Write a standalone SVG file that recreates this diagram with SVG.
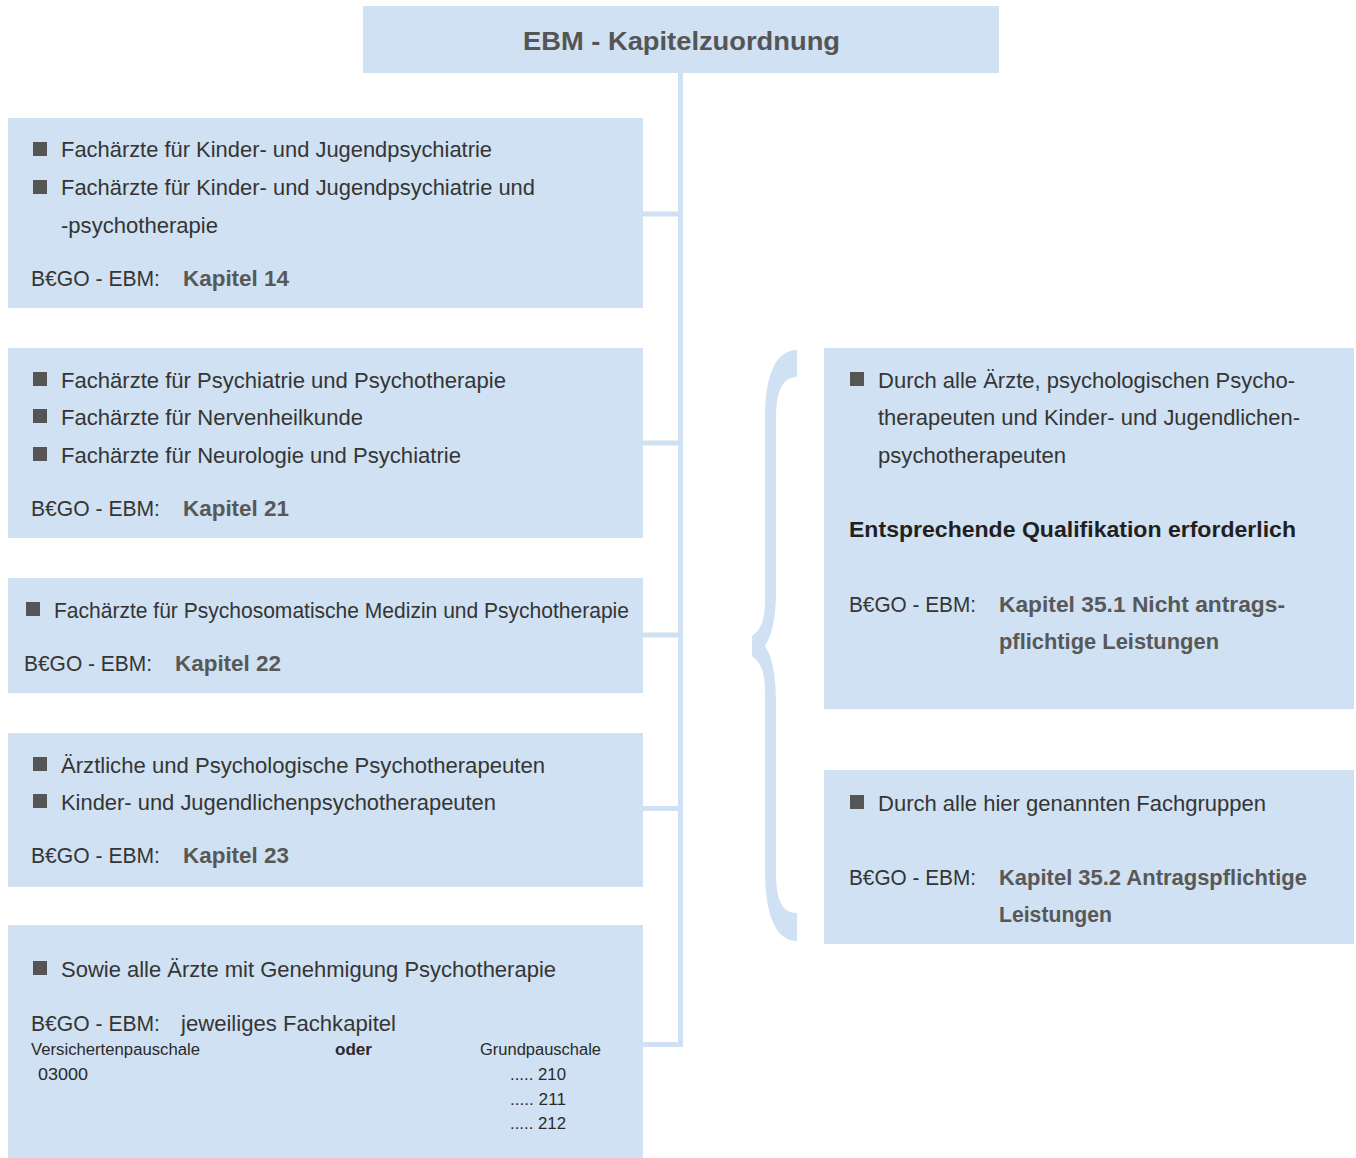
<svg xmlns="http://www.w3.org/2000/svg" width="1356" height="1158" viewBox="0 0 1356 1158">
<style>
.box{fill:#cfe1f2}
.t{font-family:"Liberation Sans",Arial,sans-serif;font-size:22px;fill:#353535}
.k{font-family:"Liberation Sans",Arial,sans-serif;font-size:22px;font-weight:bold;fill:#585858}
.q{font-family:"Liberation Sans",Arial,sans-serif;font-size:22px;font-weight:bold;fill:#231f20}
.s{font-family:"Liberation Sans",Arial,sans-serif;font-size:16px;fill:#2a2a2a}
.sb{font-family:"Liberation Sans",Arial,sans-serif;font-size:16px;font-weight:bold;fill:#2a2a2a}
.title{font-family:"Liberation Sans",Arial,sans-serif;font-size:26px;font-weight:bold;fill:#555}
.b{fill:#555}
.conn{fill:none;stroke:#cfe1f2;stroke-width:5}
</style>
<rect width="1356" height="1158" fill="#fff"/>
<g id="connectors">
<path class="conn" d="M680.5,72 V1047 M643,214 H680.5 M643,443 H680.5 M643,635 H680.5 M643,808.5 H680.5 M643,1044.5 H683"/>
<path id="brace" fill="#cfe1f2" d="M797,350 C778,350 765,370 765,420 L765,600 C765,622 760,630 752,636 L752,656 C760,662 765,670 765,692 L765,870 C765,920 778,941 797,941 L797,913 C783,913 776,902 776,872 L776,702 C776,674 772,657 765,646 C772,635 776,618 776,590 L776,420 C776,390 783,377 797,377 Z"/>
</g>
<g id="title">
<rect class="box" x="363" y="6" width="636" height="67"/>
<text class="title" x="523" y="50" textLength="317" lengthAdjust="spacingAndGlyphs">EBM - Kapitelzuordnung</text>
</g>
<g id="box1">
<rect class="box" x="8" y="118" width="635" height="190"/>
<rect class="b" x="33" y="142" width="14" height="14"/>
<rect class="b" x="33" y="180" width="14" height="14"/>
<text class="t" x="61" y="157" textLength="431" lengthAdjust="spacingAndGlyphs">Fachärzte für Kinder- und Jugendpsychiatrie</text>
<text class="t" x="61" y="195" textLength="474" lengthAdjust="spacingAndGlyphs">Fachärzte für Kinder- und Jugendpsychiatrie und</text>
<text class="t" x="61" y="233" textLength="157" lengthAdjust="spacingAndGlyphs">-psychotherapie</text>
<text class="t" x="31" y="286" textLength="129" lengthAdjust="spacingAndGlyphs">B€GO - EBM:</text>
<text class="k" x="183" y="286" textLength="106" lengthAdjust="spacingAndGlyphs">Kapitel 14</text>
</g>
<g id="box2">
<rect class="box" x="8" y="348" width="635" height="190"/>
<rect class="b" x="33" y="372" width="14" height="14"/>
<rect class="b" x="33" y="409" width="14" height="14"/>
<rect class="b" x="33" y="447" width="14" height="14"/>
<text class="t" x="61" y="388" textLength="445" lengthAdjust="spacingAndGlyphs">Fachärzte für Psychiatrie und Psychotherapie</text>
<text class="t" x="61" y="425" textLength="302" lengthAdjust="spacingAndGlyphs">Fachärzte für Nervenheilkunde</text>
<text class="t" x="61" y="463" textLength="400" lengthAdjust="spacingAndGlyphs">Fachärzte für Neurologie und Psychiatrie</text>
<text class="t" x="31" y="516" textLength="129" lengthAdjust="spacingAndGlyphs">B€GO - EBM:</text>
<text class="k" x="183" y="516" textLength="106" lengthAdjust="spacingAndGlyphs">Kapitel 21</text>
</g>
<g id="box3">
<rect class="box" x="8" y="578" width="635" height="115"/>
<rect class="b" x="26" y="602" width="14" height="14"/>
<text class="t" x="54" y="618" textLength="575" lengthAdjust="spacingAndGlyphs">Fachärzte für Psychosomatische Medizin und Psychotherapie</text>
<text class="t" x="24" y="671" textLength="128" lengthAdjust="spacingAndGlyphs">B€GO - EBM:</text>
<text class="k" x="175" y="671" textLength="106" lengthAdjust="spacingAndGlyphs">Kapitel 22</text>
</g>
<g id="box4">
<rect class="box" x="8" y="733" width="635" height="154"/>
<rect class="b" x="33" y="757" width="14" height="14"/>
<rect class="b" x="33" y="794" width="14" height="14"/>
<text class="t" x="61" y="773" textLength="484" lengthAdjust="spacingAndGlyphs">Ärztliche und Psychologische Psychotherapeuten</text>
<text class="t" x="61" y="810" textLength="435" lengthAdjust="spacingAndGlyphs">Kinder- und Jugendlichenpsychotherapeuten</text>
<text class="t" x="31" y="863" textLength="129" lengthAdjust="spacingAndGlyphs">B€GO - EBM:</text>
<text class="k" x="183" y="863" textLength="106" lengthAdjust="spacingAndGlyphs">Kapitel 23</text>
</g>
<g id="box5">
<rect class="box" x="8" y="925" width="635" height="233"/>
<rect class="b" x="33" y="961" width="14" height="14"/>
<text class="t" x="61" y="977" textLength="495" lengthAdjust="spacingAndGlyphs">Sowie alle Ärzte mit Genehmigung Psychotherapie</text>
<text class="t" x="31" y="1031" textLength="129" lengthAdjust="spacingAndGlyphs">B€GO - EBM:</text>
<text class="t" x="181" y="1031" textLength="215" lengthAdjust="spacingAndGlyphs">jeweiliges Fachkapitel</text>
<text class="s" x="31" y="1055" textLength="169" lengthAdjust="spacingAndGlyphs">Versichertenpauschale</text>
<text class="sb" x="335" y="1055" textLength="37" lengthAdjust="spacingAndGlyphs">oder</text>
<text class="s" x="480" y="1055" textLength="121" lengthAdjust="spacingAndGlyphs">Grundpauschale</text>
<text class="s" x="38" y="1080" textLength="50" lengthAdjust="spacingAndGlyphs">03000</text>
<text class="s" x="510" y="1080" textLength="56" lengthAdjust="spacingAndGlyphs">..... 210</text>
<text class="s" x="510" y="1105" textLength="56" lengthAdjust="spacingAndGlyphs">..... 211</text>
<text class="s" x="510" y="1129" textLength="56" lengthAdjust="spacingAndGlyphs">..... 212</text>
</g>
<g id="right1">
<rect class="box" x="824" y="348" width="530" height="361"/>
<rect class="b" x="850" y="372" width="14" height="14"/>
<text class="t" x="878" y="388" textLength="417" lengthAdjust="spacingAndGlyphs">Durch alle Ärzte, psychologischen Psycho-</text>
<text class="t" x="878" y="425" textLength="422" lengthAdjust="spacingAndGlyphs">therapeuten und Kinder- und Jugendlichen-</text>
<text class="t" x="878" y="463" textLength="188" lengthAdjust="spacingAndGlyphs">psychotherapeuten</text>
<text class="q" x="849" y="537" textLength="447" lengthAdjust="spacingAndGlyphs">Entsprechende Qualifikation erforderlich</text>
<text class="t" x="849" y="612" textLength="127" lengthAdjust="spacingAndGlyphs">B€GO - EBM:</text>
<text class="k" x="999" y="612" textLength="286" lengthAdjust="spacingAndGlyphs">Kapitel 35.1 Nicht antrags-</text>
<text class="k" x="999" y="649" textLength="220" lengthAdjust="spacingAndGlyphs">pflichtige Leistungen</text>
</g>
<g id="right2">
<rect class="box" x="824" y="770" width="530" height="174"/>
<rect class="b" x="850" y="795" width="14" height="14"/>
<text class="t" x="878" y="811" textLength="388" lengthAdjust="spacingAndGlyphs">Durch alle hier genannten Fachgruppen</text>
<text class="t" x="849" y="885" textLength="127" lengthAdjust="spacingAndGlyphs">B€GO - EBM:</text>
<text class="k" x="999" y="885" textLength="308" lengthAdjust="spacingAndGlyphs">Kapitel 35.2 Antragspflichtige</text>
<text class="k" x="999" y="922" textLength="113" lengthAdjust="spacingAndGlyphs">Leistungen</text>
</g>
</svg>
